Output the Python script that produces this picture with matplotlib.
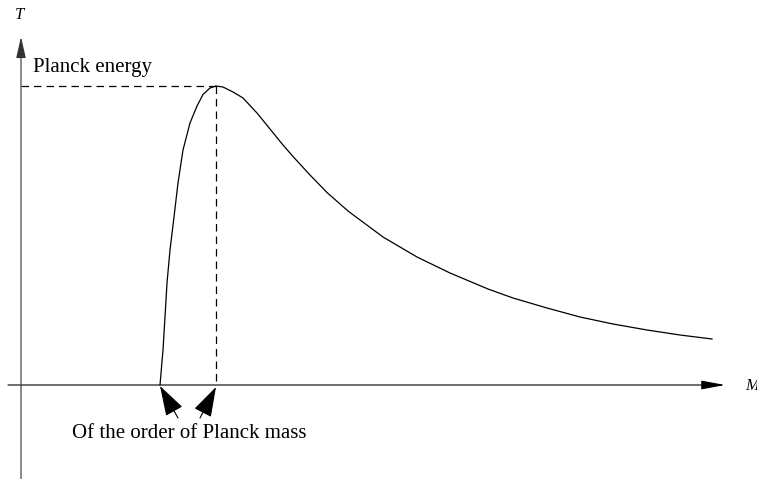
import numpy as np
import matplotlib
matplotlib.use('Agg')
import matplotlib.pyplot as plt

# curve (schematic units)
mass = [139, 142, 144, 146, 149, 153, 157, 162, 169, 176, 182, 189, 195, 202,
        212, 222, 236, 249, 262, 272, 289, 306, 327, 362, 396, 429, 467, 492,
        526, 559, 592, 626, 659, 691]
temp = [0, 35, 68, 102, 135, 168, 202, 235, 262, 279, 290.5, 297, 299, 298,
        293, 287, 272, 256, 240, 228.5, 210, 192.5, 174, 148, 128, 112, 96, 87,
        77, 68, 61, 55, 50, 46]

label_T = 'T'
label_M = 'M'
label_top = 'Planck energy'
label_bottom = 'Of the order of Planck mass'

mass = np.array(mass)
temp = np.array(temp)
i_peak = np.argmax(temp)
m_peak, t_peak = mass[i_peak], temp[i_peak]

fig = plt.figure(figsize=(7.57, 4.79), dpi=100)
ax = fig.add_axes([0, 0, 1, 1])
ax.set_xlim(-21, 736)
ax.set_ylim(-94, 385)
ax.axis('off')

serif = 'Liberation Serif'

# axes drawn as arrows
ax.annotate('', xy=(704, 0), xytext=(-13, 0),
            arrowprops=dict(arrowstyle='-|>,head_length=1.45,head_width=0.27',
                            color='black', lw=0.8, mutation_scale=10,
                            shrinkA=0, shrinkB=0))
ax.annotate('', xy=(0, 348), xytext=(0, -94),
            arrowprops=dict(arrowstyle='-|>,head_length=1.3,head_width=0.3',
                            color='#333333', lw=0.8, mutation_scale=10,
                            shrinkA=0, shrinkB=0))

# curve
ax.plot(mass, temp, color='black', lw=0.9, solid_joinstyle='round')

# dashed guides to the peak
ax.plot([0, m_peak], [t_peak, t_peak], color='black', lw=0.9, ls=(0, (6, 4)))
ax.plot([m_peak, m_peak], [t_peak, 0], color='black', lw=0.9, ls=(0, (6, 4)))

# labels
ax.text(-1, 370, label_T, fontsize=12, family=serif, style='italic',
        ha='center', va='center')
ax.text(724, -1, label_M, fontsize=12, family=serif, style='italic',
        ha='left', va='center')
ax.text(12, 318, label_top, fontsize=15, family=serif,
        ha='left', va='center')
ax.text(51, -48, label_bottom, fontsize=15, family=serif,
        ha='left', va='center')

# arrows pointing at the mass axis
for tip, tail in [((mass[0], -1), (157, -33)), ((m_peak, -2), (179, -33))]:
    ax.annotate('', xy=tip, xytext=tail,
                arrowprops=dict(arrowstyle='-|>,head_length=1.9,head_width=0.6',
                                color='black', lw=0.8, mutation_scale=10,
                                shrinkA=0, shrinkB=0))

fig.savefig('out.png', dpi=100)
